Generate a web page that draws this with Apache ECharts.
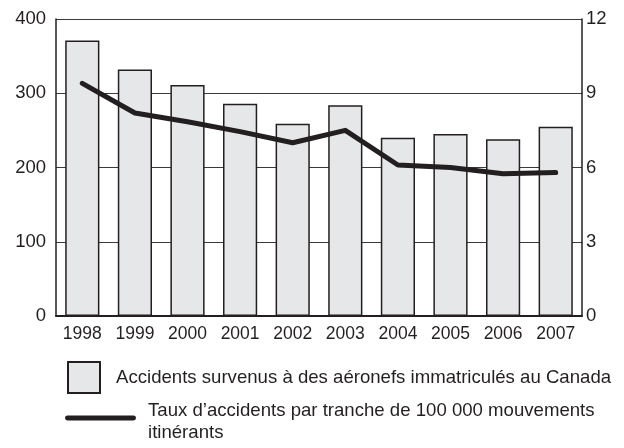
<!DOCTYPE html>
<html>
<head>
<meta charset="utf-8">
<script src="https://cdn.jsdelivr.net/npm/echarts@6/dist/echarts.min.js"></script>
<style>
  html, body { margin: 0; padding: 0; background: #fff; }
  #chart { width: 624px; height: 448px; }
</style>
</head>
<body>
<div id="chart"></div>
<script>
const years = ['1998', '1999', '2000', '2001', '2002', '2003', '2004', '2005', '2006', '2007'];
const accidents = [371, 332, 311, 286, 259, 284, 240, 245, 238, 255];
const accidentRate = [9.4, 8.2, 7.85, 7.45, 7.0, 7.5, 6.1, 6.0, 5.75, 5.8];
const barName = 'Accidents survenus à des aéronefs immatriculés au Canada';
const lineName = 'Taux d’accidents par tranche de 100 000 mouvements\nitinérants';

const ink = '#231f20';
const font = "'Liberation Sans', Arial, sans-serif";

const chart = echarts.init(document.getElementById('chart'));

// thick bar in the top part of a taller box, so the two-line label sits a bit lower
const lineIcon = 'path://M2,0H69A2.5,2.5 0 0 1 69,5H2A2.5,2.5 0 0 1 2,0Z M0,13L0,13Z M71,13L71,13Z';

chart.setOption({
  animation: false,
  textStyle: { fontFamily: font, color: ink },
  grid: { left: 56, right: 42, top: 19, bottom: 132 },
  legend: [
    {
      data: [{ name: barName, icon: 'rect' }],
      left: 67, top: 361, padding: 0,
      itemWidth: 32, itemHeight: 31,
      textStyle: { fontFamily: font, fontSize: 18.6, color: ink, padding: [0, 0, 0, 11] },
      selectedMode: false
    },
    {
      data: [{ name: lineName, icon: lineIcon }],
      left: 65, top: 400, padding: 0,
      itemWidth: 71, itemHeight: 13,
      textStyle: { fontFamily: font, fontSize: 18.6, color: ink, lineHeight: 22, padding: [0, 0, 0, 7] },
      selectedMode: false
    }
  ],
  xAxis: {
    type: 'category',
    data: years,
    axisLine: { lineStyle: { color: ink, width: 2 } },
    axisTick: { inside: true, length: 6, lineStyle: { color: ink, width: 1 } },
    axisLabel: { fontFamily: font, fontSize: 17.5, color: ink, margin: 9, interval: 0 }
  },
  yAxis: [
    {
      type: 'value',
      min: 0, max: 400, interval: 100,
      axisLine: { show: true, lineStyle: { color: ink, width: 1.5 } },
      axisTick: { show: false },
      axisLabel: { fontFamily: font, fontSize: 18.5, color: ink, margin: 10 },
      splitLine: { lineStyle: { color: '#3a3a3a', width: 1 } }
    },
    {
      type: 'value',
      min: 0, max: 12, interval: 3,
      axisLine: { show: true, lineStyle: { color: ink, width: 1.5 } },
      axisTick: { show: false },
      axisLabel: { fontFamily: font, fontSize: 18.5, color: ink, margin: 4 },
      splitLine: { show: false }
    }
  ],
  series: [
    {
      name: barName,
      type: 'bar',
      data: accidents,
      barWidth: '65%',
      itemStyle: { color: '#e6e7e8', borderColor: ink, borderWidth: 1.5 }
    },
    {
      name: lineName,
      type: 'line',
      yAxisIndex: 1,
      data: accidentRate,
      symbol: 'none',
      lineStyle: { color: ink, width: 5, cap: 'round', join: 'round' },
      itemStyle: { color: ink }
    }
  ]
});
</script>
</body>
</html>
